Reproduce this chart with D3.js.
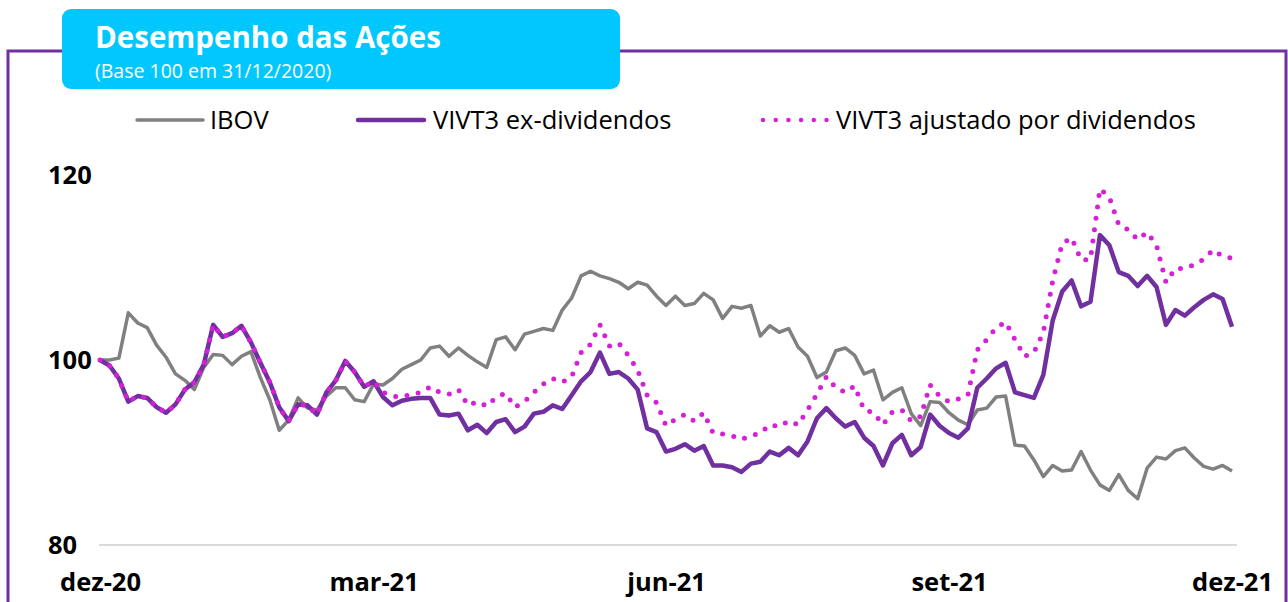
<!DOCTYPE html>
<html>
<head>
<meta charset="utf-8">
<script src="https://cdn.jsdelivr.net/npm/d3@7/dist/d3.min.js"></script>
<style>
  html, body { margin: 0; padding: 0; background: #fff; }
  svg { display: block; font-family: "Open Sans", "Noto Sans", sans-serif; }
</style>
</head>
<body>
<svg id="chart" width="1288" height="602"></svg>
<script>
// ---- Data (index = sample along the trading period, base 100 em 31/12/2020) ----
const xTickIndex = [0, 29, 60, 90, 120];
const xTickLabels = ["dez-20", "mar-21", "jun-21", "set-21", "dez-21"];
const yTicks = [80, 100, 120];
const seriesNames = ["IBOV", "VIVT3 ex-dividendos", "VIVT3 ajustado por dividendos"];

const ibov = [
  100.0, 100.0, 100.2, 105.1, 104.0, 103.5, 101.6, 100.3, 98.5, 97.8,
  96.8, 99.2, 100.6, 100.5, 99.5, 100.4, 100.9, 98.1, 95.7, 92.4,
  93.5, 95.9, 94.8, 94.6, 96.1, 97.0, 97.0, 95.7, 95.5, 97.4,
  97.3, 98.0, 99.0, 99.5, 100.0, 101.3, 101.5, 100.4, 101.3, 100.5,
  99.8, 99.2, 102.2, 102.5, 101.1, 102.8, 103.1, 103.4, 103.2, 105.4,
  106.7, 109.1, 109.6, 109.1, 108.8, 108.4, 107.7, 108.4, 108.1, 106.9,
  105.9, 106.9, 105.9, 106.1, 107.2, 106.5, 104.5, 105.8, 105.6, 105.9,
  102.6, 103.7, 103.0, 103.4, 101.4, 100.4, 98.1, 98.7, 101.0, 101.3,
  100.5, 98.5, 98.9, 95.7, 96.5, 97.0, 94.2, 92.9, 95.5, 95.4,
  94.3, 93.5, 93.0, 94.6, 94.8, 96.0, 96.1, 90.8, 90.7, 89.2,
  87.4, 88.6, 88.0, 88.1, 90.1, 88.1, 86.5, 85.9, 87.6, 85.9,
  85.0, 88.3, 89.5, 89.3, 90.2, 90.5, 89.4, 88.5, 88.2, 88.6,
  88.0
];

const vivt3Ex = [
  100.0, 99.4, 98.0, 95.5, 96.1, 95.9, 94.9, 94.3, 95.2, 96.8,
  97.6, 99.5, 103.8, 102.5, 102.9, 103.7, 101.9, 99.7, 97.6, 94.9,
  93.4, 95.2, 95.1, 94.1, 96.5, 97.8, 99.9, 98.7, 97.1, 97.7,
  96.0, 95.1, 95.6, 95.8, 95.9, 95.9, 94.1, 94.0, 94.2, 92.4,
  93.0, 92.1, 93.3, 93.6, 92.2, 92.8, 94.2, 94.4, 95.1, 94.7,
  96.2, 97.7, 98.7, 100.8, 98.5, 98.7, 98.0, 96.8, 92.6, 92.2,
  90.1, 90.4, 90.9, 90.2, 90.7, 88.6, 88.6, 88.4, 87.9, 88.8,
  89.0, 90.1, 89.7, 90.5, 89.7, 91.2, 93.7, 94.8, 93.7, 92.8,
  93.3, 91.6, 90.7, 88.6, 91.0, 91.9, 89.7, 90.6, 94.1, 92.9,
  92.1, 91.6, 92.6, 97.0, 98.0, 99.1, 99.7, 96.5, 96.2, 95.9,
  98.4, 104.3, 107.4, 108.6, 105.8, 106.3, 113.5, 112.4, 109.5, 109.1,
  108.0, 109.1, 107.9, 103.8, 105.4, 104.8, 105.7, 106.5, 107.1, 106.6,
  103.6
];

const vivt3Adj = [
  100.0, 99.4, 98.0, 95.5, 96.1, 95.9, 94.9, 94.3, 95.2, 96.8,
  97.6, 99.5, 103.8, 102.5, 102.9, 103.7, 101.9, 99.7, 97.6, 94.9,
  93.4, 95.2, 95.1, 94.1, 96.5, 97.8, 99.9, 98.7, 97.1, 97.7,
  96.5, 96.1, 96.0, 96.3, 96.5, 97.1, 96.5, 96.3, 96.8, 95.1,
  95.5, 95.0, 96.0, 96.4, 94.9, 95.5, 96.5, 97.4, 98.0, 97.6,
  98.2, 100.8, 101.7, 103.8, 101.5, 101.8, 100.5, 98.9, 96.2, 95.4,
  92.9, 93.6, 94.1, 93.4, 94.3, 92.1, 92.0, 91.8, 91.4, 91.8,
  92.1, 93.0, 92.8, 93.4, 93.0, 94.6, 96.3, 98.2, 97.0, 96.5,
  97.2, 94.6, 94.3, 93.0, 94.4, 94.6, 93.4, 93.9, 97.3, 96.1,
  95.5, 95.8, 96.2, 101.1, 102.2, 103.5, 104.1, 102.2, 100.4, 100.8,
  103.0, 108.6, 112.6, 113.2, 110.8, 110.9, 118.5, 117.6, 114.6, 114.1,
  113.0, 113.8, 112.4, 108.4, 109.9, 109.9, 110.3, 110.9, 111.9, 111.2,
  111.0
];

// ---- Layout ----
const svg = d3.select("#chart");
const W = 1288, H = 602;
const purple = "#7030A0", magenta = "#D620D8", gray = "#808080", cyan = "#00C8FF";

const x = d3.scaleLinear().domain([0, ibov.length - 1]).range([100, 1232]);
const y = d3.scaleLinear().domain([80, 120]).range([545, 175]);

// Frame
svg.append("path")
  .attr("d", `M8,${H} L8,51 L1286,51 L1286,${H}`)
  .attr("fill", "none").attr("stroke", purple).attr("stroke-width", 3);

// Title box
svg.append("rect").attr("x", 62).attr("y", 9).attr("width", 558).attr("height", 80)
  .attr("rx", 9).attr("fill", cyan);
svg.append("text").attr("x", 95).attr("y", 48).attr("fill", "#fff")
  .attr("font-size", 29.5).attr("font-weight", 700).text("Desempenho das Ações");
svg.append("text").attr("x", 95).attr("y", 78).attr("fill", "#fff")
  .attr("font-size", 19.5).text("(Base 100 em 31/12/2020)");

// Legend
const legend = [
  { name: seriesNames[0], x1: 137, x2: 203, tx: 210, color: gray, width: 3.5, dash: null },
  { name: seriesNames[1], x1: 358, x2: 424, tx: 433, color: purple, width: 4.5, dash: null },
  { name: seriesNames[2], x1: 763, x2: 827, tx: 836, color: magenta, width: 4.5, dash: "0 12.7" }
];
const lg = svg.append("g");
legend.forEach(d => {
  lg.append("line").attr("x1", d.x1).attr("x2", d.x2).attr("y1", 120).attr("y2", 120)
    .attr("stroke", d.color).attr("stroke-width", d.width)
    .attr("stroke-linecap", "round")
    .attr("stroke-dasharray", d.dash);
  lg.append("text").attr("x", d.tx).attr("y", 129).attr("font-size", 25.5)
    .attr("fill", "#000").text(d.name);
});

// Axes
const xAxis = d3.axisBottom(x).tickValues(xTickIndex)
  .tickFormat((d, i) => xTickLabels[i]).tickSize(0).tickPadding(28);
const gx = svg.append("g").attr("transform", `translate(0,${y(80)})`).call(xAxis);
gx.select(".domain").attr("stroke", "#D9D9D9").attr("stroke-width", 2)
  .attr("d", `M${x.range()[0] - 1},0H${x.range()[1] + 5}`);
gx.selectAll("text").attr("font-size", 25.5).attr("font-weight", 700)
  .attr("fill", "#000").attr("font-family", "'Open Sans', sans-serif");

const yAxis = d3.axisLeft(y).tickValues(yTicks).tickSize(0).tickPadding(0);
const gy = svg.append("g").attr("transform", "translate(48,0)").call(yAxis);
gy.select(".domain").remove();
gy.selectAll("text").attr("text-anchor", "start").attr("x", 0)
  .attr("font-size", 25.5).attr("font-weight", 700).attr("fill", "#000")
  .attr("font-family", "'Open Sans', sans-serif");

// Lines
const line = d3.line().x((d, i) => x(i)).y(d => y(d)).curve(d3.curveLinear);
svg.append("path").datum(ibov).attr("d", line).attr("fill", "none")
  .attr("stroke", gray).attr("stroke-width", 3.5).attr("stroke-linejoin", "round");
svg.append("path").datum(vivt3Ex).attr("d", line).attr("fill", "none")
  .attr("stroke", purple).attr("stroke-width", 4.5).attr("stroke-linejoin", "round");
svg.append("path").datum(vivt3Adj).attr("d", line).attr("fill", "none")
  .attr("stroke", magenta).attr("stroke-width", 5).attr("stroke-linecap", "round")
  .attr("stroke-dasharray", "0 11.5");
</script>
</body>
</html>
